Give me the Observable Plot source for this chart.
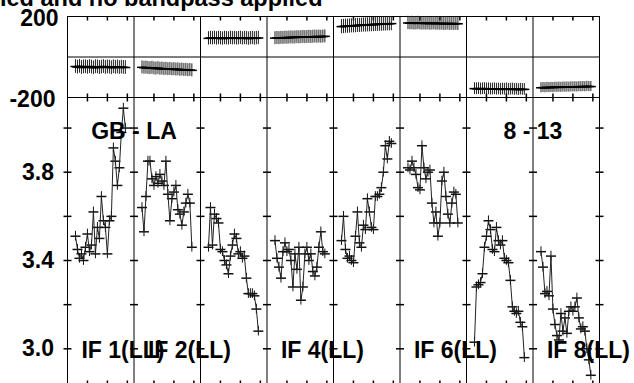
<!DOCTYPE html>
<html><head><meta charset="utf-8">
<script src="https://cdn.jsdelivr.net/npm/d3@7"></script>
<script src="https://cdn.jsdelivr.net/npm/@observablehq/plot@0.6"></script>
<style>
html,body{margin:0;padding:0;background:#fff;overflow:hidden;}
#wrap{position:relative;width:634px;height:383px;overflow:hidden;background:#fff;}
#wrap svg{position:absolute;left:0;top:0;}
#title{position:absolute;left:0;top:-13px;font:bold 23.5px "Liberation Sans",Arial,sans-serif;line-height:23px;white-space:nowrap;color:#000;}
</style></head><body>
<div id="wrap"><div id="title"></div></div>
<script>
// ---- data ----
const titleText = "ied and no bandpass applied";
const ifNumbers = [1, 2, 3, 4, 5, 6, 7, 8];
const ifLabelNumbers = [1, 2, 4, 6, 8];
const baselineText = ["GB - LA", "8 - 13"];
const baselineAtBoundary = [1, 7];
const channels = [4,5,6,7,8,9,10,11,12,13,14,15,16,17,18,19,20,21,22,23,24,25,26,27,28,29];
const chanTicks = [10, 20, 30];
const phaseTickLabels = [200, -200];
const ampTickLabels = [3.0, 3.4, 3.8];
const ampTickMarks = [3.0, 3.2, 3.4, 3.6, 3.8, 4.0];

const ampIF1 = [3.51,3.45,3.41,3.43,3.40,3.46,3.52,3.44,3.47,3.62,3.43,3.55,3.50,3.69,3.58,3.55,3.43,3.58,3.60,3.91,3.85,3.74,3.82,3.98,4.09,4.00];
const ampIF2 = [3.64,3.53,3.69,3.85,3.85,3.77,3.74,3.78,3.75,3.79,3.76,3.74,3.85,3.70,3.58,3.68,3.71,3.74,3.63,3.61,3.56,3.62,3.66,3.70,3.66,3.46];
const ampIF3 = [3.46,3.64,3.47,3.61,3.59,3.57,3.45,3.44,3.40,3.38,3.34,3.42,3.47,3.52,3.50,3.43,3.44,3.41,3.42,3.32,3.25,3.25,3.25,3.24,3.18,3.08];
const ampIF4 = [3.49,3.41,3.37,3.32,3.44,3.48,3.44,3.45,3.40,3.28,3.43,3.36,3.46,3.22,3.28,3.43,3.46,3.40,3.43,3.35,3.33,3.37,3.46,3.53,3.44,3.43];
const ampIF5 = [3.49,3.60,3.45,3.41,3.42,3.40,3.39,3.51,3.62,3.48,3.46,3.56,3.54,3.68,3.62,3.55,3.54,3.69,3.69,3.70,3.73,3.80,3.92,3.86,3.94,3.93];
const ampIF6 = [3.82,3.81,3.85,3.82,3.79,3.73,3.72,3.92,3.82,3.77,3.80,3.81,3.66,3.57,3.62,3.51,3.57,3.76,3.80,3.69,3.61,3.57,3.66,3.71,3.70,3.57];
const ampIF7 = [3.03,3.28,3.29,3.30,3.34,3.46,3.51,3.58,3.54,3.45,3.44,3.55,3.49,3.47,3.49,3.41,3.40,3.39,3.31,3.19,3.17,3.16,3.17,3.12,3.10,2.96];
const ampIF8 = [3.44,3.37,3.25,3.26,3.24,3.42,3.18,3.11,3.06,3.04,3.16,3.08,3.14,3.07,3.17,3.19,3.17,3.19,3.23,3.14,3.09,3.10,3.08,3.00,2.95,2.88];
const ampErr = [0.022,0.022,0.022,0.022,0.022,0.022,0.022,0.022];

const phaseIF1 = [-47,-50,-46,-52,-49,-48,-51,-47,-50,-53,-48,-49,-52,-50,-47,-51,-49,-50,-53,-48,-51,-49,-52,-50,-51,-52];
const phaseIF2 = [-51,-53,-52,-54,-55,-53,-56,-57,-55,-58,-57,-59,-58,-60,-59,-61,-60,-62,-61,-63,-62,-64,-63,-65,-64,-66];
const phaseIF3 = [92,94,93,95,92,94,93,91,94,93,92,95,93,94,92,93,95,92,94,93,91,93,94,92,93,94];
const phaseIF4 = [93,94,93,95,94,96,95,96,97,96,97,98,97,98,99,98,99,100,99,100,101,100,101,100,101,102];
const phaseIF5 = [150,151,152,152,153,154,154,155,156,156,157,158,158,159,159,160,160,161,161,162,162,163,163,164,164,165];
const phaseIF6 = [168,167,168,166,167,168,167,166,167,166,167,165,166,167,165,166,165,166,164,165,166,164,165,164,165,164];
const phaseIF7 = [-156,-157,-156,-158,-157,-156,-158,-157,-159,-158,-157,-159,-158,-160,-158,-159,-157,-160,-159,-158,-160,-159,-161,-159,-160,-160];
const phaseIF8 = [-152,-151,-152,-150,-151,-150,-151,-149,-150,-149,-150,-148,-149,-148,-149,-147,-148,-147,-148,-146,-147,-146,-147,-145,-146,-146];
const phaseErr = [34, 32, 33, 32, 35, 33, 29, 25];

// ---- layout helpers ----
const panelChans = 100 / 3; // channel units spanned by one IF panel
const ampSeries = [ampIF1, ampIF2, ampIF3, ampIF4, ampIF5, ampIF6, ampIF7, ampIF8];
const phaseSeries = [phaseIF1, phaseIF2, phaseIF3, phaseIF4, phaseIF5, phaseIF6, phaseIF7, phaseIF8];

const rows = [];
ifNumbers.forEach((n, i) => {
  channels.forEach((c, k) => {
    rows.push({ifn: n, x: i * panelChans + c, amp: ampSeries[i][k], ampErr: ampErr[i],
               phase: phaseSeries[i][k], phaseErr: phaseErr[i]});
  });
});
const boundaries = ifNumbers.slice(1).map((n) => (n - 1) * panelChans);
const allBoundaries = [0, ...boundaries, ifNumbers.length * panelChans];
const tickXs = [];
ifNumbers.forEach((n, i) => chanTicks.forEach((c) => tickXs.push(i * panelChans + c)));
const yTickGrid = [];
allBoundaries.forEach((bx) => ampTickMarks.forEach((v) => yTickGrid.push({x: bx, y: v})));
const baselines = baselineText.map((t, i) => ({text: t, at: baselineAtBoundary[i]}));
const ifLabels = ifLabelNumbers.map((n) => ({n, text: `IF ${n}(LL)`}));

// custom symbols
const hbar = {draw(ctx, size) { const r = Math.sqrt(size / Math.PI); ctx.moveTo(-r, 0); ctx.lineTo(r, 0); }};
const tickDown = {draw(ctx, size) { const r = Math.sqrt(size / Math.PI); ctx.moveTo(0, 0); ctx.lineTo(0, r); }};
const tickUp = {draw(ctx, size) { const r = Math.sqrt(size / Math.PI); ctx.moveTo(0, 0); ctx.lineTo(0, -r); }};

const font = "'Liberation Sans', Arial, sans-serif";
const txt = {fontSize: 23, fontWeight: "bold", fill: "black", fontFamily: font};
const xDomain = [0, ifNumbers.length * panelChans];
const common = {width: 634, marginLeft: 67, marginRight: 35,
  style: {background: "none", overflow: "visible", fontFamily: font}};

document.getElementById("title").textContent = titleText;

const phasePlot = Plot.plot({
  ...common, height: 98, marginTop: 16, marginBottom: 1,
  x: {domain: xDomain, axis: null},
  y: {domain: [-200, 200], axis: null},
  marks: [
    Plot.frame({stroke: "black"}),
    Plot.ruleY([0], {stroke: "black"}),
    Plot.ruleX(boundaries, {stroke: "black"}),
    Plot.dot(tickXs, {x: (d) => d, frameAnchor: "top", symbol: tickDown, r: 4, stroke: "black", fill: "none"}),
    Plot.dot(tickXs, {x: (d) => d, frameAnchor: "bottom", symbol: tickUp, r: 4, stroke: "black", fill: "none"}),
    Plot.ruleX(rows, {x: "x", y1: (d) => d.phase - d.phaseErr, y2: (d) => d.phase + d.phaseErr, stroke: "#222", strokeWidth: 1}),
    Plot.dot(rows, {x: "x", y: "phase", symbol: hbar, r: 5, stroke: "black", fill: "none"}),
    Plot.line(rows, {x: "x", y: "phase", z: "ifn", stroke: "black", strokeWidth: 1.5}),
    Plot.text(phaseTickLabels.filter((d) => d > 0), {y: (d) => d, frameAnchor: "left", textAnchor: "end", dx: -9, dy: 2, text: (d) => String(d), ...txt}),
    Plot.text(phaseTickLabels.filter((d) => d < 0), {y: (d) => d, frameAnchor: "left", textAnchor: "end", dx: -12, dy: 2, text: (d) => String(d), ...txt})
  ]
});

const ampPlot = Plot.plot({
  ...common, height: 385, marginTop: 97, marginBottom: 1,
  x: {domain: xDomain, axis: null},
  y: {domain: [2.8383, 4.1384], axis: null},
  marks: [
    Plot.frame({stroke: "black"}),
    Plot.ruleX(boundaries, {stroke: "black"}),
    Plot.dot(tickXs, {x: (d) => d, frameAnchor: "top", symbol: tickDown, r: 4, stroke: "black", fill: "none"}),
    Plot.dot(tickXs, {x: (d) => d, frameAnchor: "bottom", symbol: tickUp, r: 4, stroke: "black", fill: "none"}),
    Plot.dot(yTickGrid, {x: "x", y: "y", symbol: hbar, r: 4, stroke: "black", fill: "none"}),
    Plot.ruleX(rows, {x: "x", y1: (d) => d.amp - d.ampErr, y2: (d) => d.amp + d.ampErr, stroke: "#111", strokeWidth: 1}),
    Plot.dot(rows, {x: "x", y: "amp", symbol: hbar, r: 5, stroke: "#111", fill: "none"}),
    Plot.line(rows, {x: "x", y: "amp", z: "ifn", stroke: "#222", strokeWidth: 1}),
    Plot.text(ampTickLabels, {y: (d) => d, frameAnchor: "left", textAnchor: "end", dx: -13.5, text: (d) => d.toFixed(1), ...txt}),
    Plot.text(baselines, {x: (d) => d.at * panelChans, frameAnchor: "top", dy: 25, text: "text", ...txt}),
    Plot.text(ifLabels, {x: (d) => (d.n - 1) * panelChans + 7, frameAnchor: "bottom", dy: -27, textAnchor: "start", text: "text", ...txt})
  ]
});

const wrap = document.getElementById("wrap");
wrap.appendChild(ampPlot);
wrap.appendChild(phasePlot);
</script></body></html>
